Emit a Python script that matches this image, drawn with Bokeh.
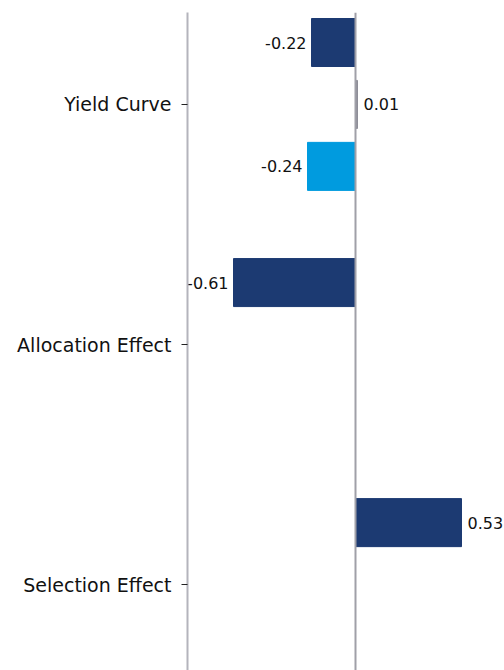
from bokeh.plotting import figure
from bokeh.models import ColumnDataSource, Range1d, FixedTicker, Span
from bokeh.core.properties import value
from bokeh.embed import file_html
from bokeh.resources import INLINE

categories = ["Yield Curve", "Allocation Effect", "Selection Effect"]
series_a = [-0.22, -0.61, 0.53]
series_b = [0.01, None, None]
series_c = [-0.24, None, None]
colors = ["#1c3a72", "#8e8e98", "#009bdf"]

p = figure(width=504, height=670, output_backend="svg", toolbar_location=None,
           x_range=Range1d(-0.84, 0.745), y_range=Range1d(2.358, -0.383),
           min_border_left=187, min_border_right=0, min_border_top=12, min_border_bottom=0)
p.outline_line_color = None
p.xaxis.visible = False
p.xgrid.visible = False
p.ygrid.visible = False

offsets = [-0.258, 0.0, 0.258]
bar_h = 0.2
for series, off, col in zip([series_a, series_b, series_c], offsets, colors):
    ys, xs, labels, aligns, offs = [], [], [], [], []
    for i, v in enumerate(series):
        if v is None:
            continue
        ys.append(i + off)
        xs.append(v)
        labels.append(f"{v:.2f}")
        aligns.append("right" if v < 0 else "left")
        offs.append(-5 if v < 0 else 6)
    src = ColumnDataSource(dict(y=ys, x=xs, label=labels, align=aligns, xo=offs))
    p.hbar(y="y", left=0, right="x", height=bar_h, color=col, source=src)
    p.text(x="x", y="y", text="label", text_align="align", x_offset="xo",
           text_baseline="middle", text_font=value("DejaVu Sans"),
           text_font_size="16px", text_color="#111111", source=src)

zero = Span(location=0, dimension="height", line_color="#a0a0a8", line_width=2)
p.add_layout(zero)

p.yaxis.ticker = FixedTicker(ticks=[0, 1, 2])
p.yaxis.major_label_overrides = {0: categories[0], 1: categories[1], 2: categories[2]}
p.yaxis.minor_tick_line_color = None
p.yaxis.axis_line_color = "#b4b4bc"
p.yaxis.axis_line_width = 2
p.yaxis.major_tick_line_color = "#222222"
p.yaxis.major_tick_out = 6
p.yaxis.major_tick_in = 0
p.yaxis.major_label_standoff = 10
p.yaxis.major_label_text_font = "DejaVu Sans"
p.yaxis.major_label_text_font_size = "19px"
p.yaxis.major_label_text_color = "#111111"

open("out.html", "w").write(file_html(p, INLINE))
